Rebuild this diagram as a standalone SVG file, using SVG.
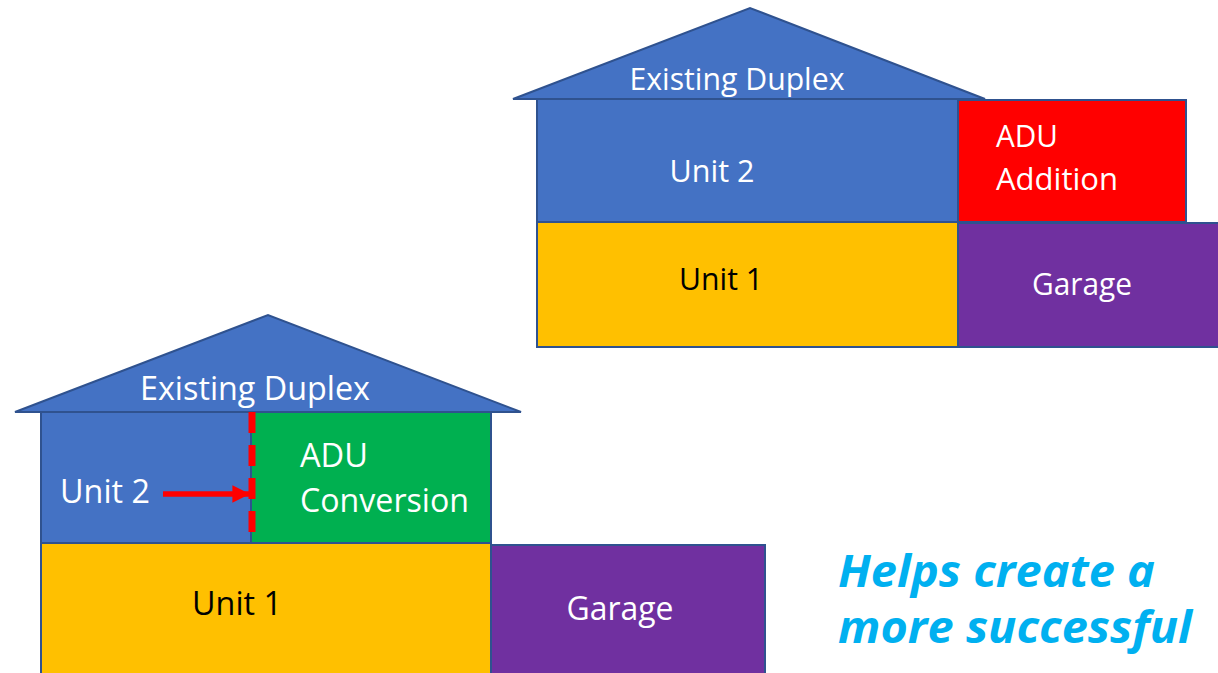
<svg xmlns="http://www.w3.org/2000/svg" width="1218" height="673" viewBox="0 0 1218 673">
<style>
.box{stroke:#2F528F;stroke-width:2}
.blue{fill:#4472C4}
.yellow{fill:#FFC000}
.purple{fill:#7030A0}
.red{fill:#FF0000}
.green{fill:#00B050}
.t{font-family:"Open Sans","Lato","Liberation Sans",sans-serif;fill:#FFFFFF}
.tk{fill:#000000}
.tag{font-family:"Open Sans","Liberation Sans",sans-serif;font-style:italic;font-weight:bold;fill:#00B0F0;font-size:45px}
</style>
<defs>
<marker id="ah" viewBox="0 0 10 10" refX="10" refY="5" markerWidth="3.2" markerHeight="3.4" orient="auto" markerUnits="strokeWidth">
<path d="M0,0 L10,5 L0,10 Z" fill="#FF0000"/>
</marker>
</defs>
<rect width="1218" height="673" fill="#FFFFFF"/>

<g id="top-house">
<g id="top-roof">
<polygon class="box blue" points="513,99 750,8 985,99"/>
<text class="t" x="737" y="90" font-size="31" text-anchor="middle" textLength="215" lengthAdjust="spacingAndGlyphs">Existing Duplex</text>
</g>
<g id="top-unit2">
<rect class="box blue" x="537" y="99" width="421" height="123"/>
<text class="t" x="712" y="182" font-size="31" text-anchor="middle" textLength="85" lengthAdjust="spacingAndGlyphs">Unit 2</text>
</g>
<g id="top-adu">
<rect class="box red" x="958" y="100" width="228" height="122"/>
<text class="t" x="996" y="147" font-size="31" textLength="62" lengthAdjust="spacingAndGlyphs">ADU</text>
<text class="t" x="996" y="190" font-size="31" textLength="122" lengthAdjust="spacingAndGlyphs">Addition</text>
</g>
<g id="top-unit1">
<rect class="box yellow" x="537" y="222" width="421" height="125"/>
<text class="t tk" x="721" y="290" font-size="31" text-anchor="middle" textLength="84" lengthAdjust="spacingAndGlyphs">Unit 1</text>
</g>
<g id="top-garage">
<rect class="box purple" x="958" y="223" width="262" height="124"/>
<text class="t" x="1082" y="295" font-size="31" text-anchor="middle" textLength="100" lengthAdjust="spacingAndGlyphs">Garage</text>
</g>
</g>

<g id="bottom-house">
<g id="bottom-roof">
<polygon class="box blue" points="15,412 268,315 521,412"/>
<text class="t" x="255" y="400" font-size="33" text-anchor="middle" textLength="230" lengthAdjust="spacingAndGlyphs">Existing Duplex</text>
</g>
<g id="bottom-unit2">
<rect class="box blue" x="41" y="412" width="210" height="131"/>
<text class="t" x="60" y="503" font-size="33" textLength="90" lengthAdjust="spacingAndGlyphs">Unit 2</text>
</g>
<g id="bottom-adu">
<rect class="box green" x="251" y="412" width="240" height="131"/>
<text class="t" x="300" y="467" font-size="33" textLength="68" lengthAdjust="spacingAndGlyphs">ADU</text>
<text class="t" x="300" y="512" font-size="33" textLength="169" lengthAdjust="spacingAndGlyphs">Conversion</text>
</g>
<g id="bottom-unit1">
<rect class="box yellow" x="41" y="543" width="450" height="135"/>
<text class="t tk" x="237" y="615" font-size="33" text-anchor="middle" textLength="90" lengthAdjust="spacingAndGlyphs">Unit 1</text>
</g>
<g id="bottom-garage">
<rect class="box purple" x="491" y="545" width="274" height="133"/>
<text class="t" x="620" y="620" font-size="33" text-anchor="middle" textLength="107" lengthAdjust="spacingAndGlyphs">Garage</text>
</g>
</g>

<g id="connectors">
<line x1="252" y1="412" x2="252" y2="540" stroke="#FF0000" stroke-width="7" stroke-dasharray="21,12"/>
<line x1="163" y1="494" x2="250" y2="494" stroke="#FF0000" stroke-width="5.5" marker-end="url(#ah)"/>
</g>

<g id="tagline">
<text class="tag" x="838" y="587" textLength="317" lengthAdjust="spacingAndGlyphs">Helps create a</text>
<text class="tag" x="838" y="643" textLength="354" lengthAdjust="spacingAndGlyphs">more successful</text>
</g>
</svg>
